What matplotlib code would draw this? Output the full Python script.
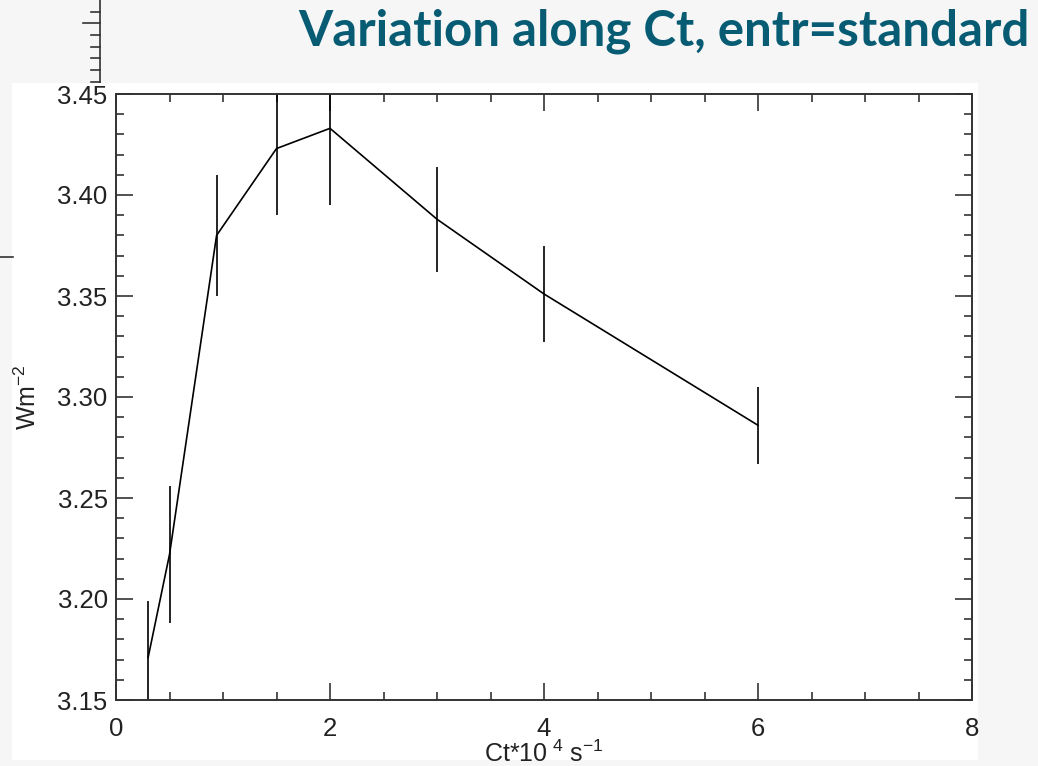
import matplotlib.pyplot as plt
from matplotlib.ticker import MultipleLocator
from matplotlib.patches import Rectangle
from matplotlib.lines import Line2D

# data
ct = [0.3, 0.5, 0.94, 1.5, 2.0, 3.0, 4.0, 6.0]
flux = [3.171, 3.222, 3.380, 3.423, 3.433, 3.388, 3.351, 3.286]
err = [0.028, 0.034, 0.030, 0.033, 0.038, 0.026, 0.024, 0.019]

title = "Variation along Ct, entr=standard"

plt.rcParams['font.family'] = ['Liberation Sans', 'DejaVu Sans']
plt.rcParams['mathtext.fontset'] = 'custom'
plt.rcParams['mathtext.rm'] = 'Liberation Sans'

fig = plt.figure(figsize=(10.38, 7.66), dpi=100, facecolor='#f6f6f6')

# white pasted image area
fig.patches.append(Rectangle((12 / 1038, 6 / 766), 966 / 1038, 677 / 766,
                             transform=fig.transFigure, facecolor='white',
                             edgecolor='none', zorder=-1))

# remnants of another plot at top left
fig.lines.append(Line2D([100 / 1038, 100 / 1038], [1.0, 1 - 82 / 766],
                        transform=fig.transFigure, color='#333333', lw=1.2))
for yy in [12, 23, 35, 47, 58, 70, 82]:
    x0 = 83 if yy == 23 else 91
    fig.lines.append(Line2D([x0 / 1038, 100 / 1038], [1 - yy / 766, 1 - yy / 766],
                            transform=fig.transFigure, color='#333333', lw=1.2))
fig.lines.append(Line2D([0, 13 / 1038], [1 - 257 / 766, 1 - 257 / 766],
                        transform=fig.transFigure, color='#333333', lw=1.2))

ax = fig.add_axes([116 / 1038, 66 / 766, 856 / 1038, 606 / 766])
ax.set_zorder(2)
ax.errorbar(ct, flux, yerr=err, color='black', lw=1.2, elinewidth=1.2, capsize=0)

ax.set_xlim(0, 8)
ax.set_ylim(3.15, 3.45)
ax.xaxis.set_major_locator(MultipleLocator(2))
ax.xaxis.set_minor_locator(MultipleLocator(0.5))
ax.yaxis.set_major_locator(MultipleLocator(0.05))
ax.yaxis.set_minor_locator(MultipleLocator(0.01))
ax.yaxis.set_major_formatter(plt.FormatStrFormatter('%.2f'))
ax.tick_params(which='both', direction='in', top=True, right=True,
               width=1.2, color='#333333', labelsize=18.5, labelcolor='#222222')
ax.tick_params(which='major', length=12.5)
ax.tick_params(which='minor', length=6)
ax.tick_params(axis='y', which='major', pad=6)
ax.tick_params(axis='x', which='major', pad=12)
for s in ax.spines.values():
    s.set_linewidth(1.4)
    s.set_color('#333333')

ax.set_xlabel(r'Ct*10$^{\ 4}$ s$^{-1}$', fontsize=18, color='#222222', labelpad=0)
ax.set_ylabel(r'Wm$^{-2}$', fontsize=18, color='#222222', labelpad=12)

fig.text(1030 / 1038, 1 - 45 / 766, title, ha='right', va='baseline',
         fontsize=35.5, fontweight='bold', color='#075c74', family='Lato')

fig.savefig('out.png', dpi=100, facecolor=fig.get_facecolor())
